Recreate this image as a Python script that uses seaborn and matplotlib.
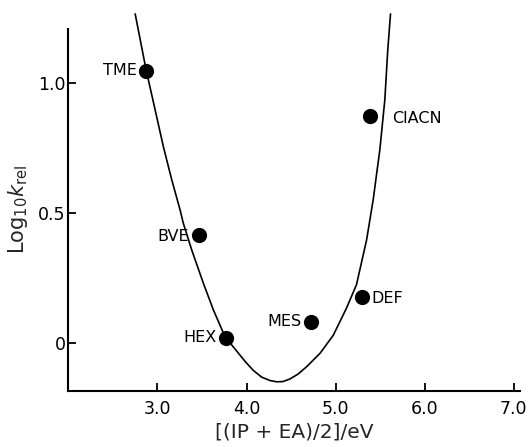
import matplotlib
matplotlib.use("Agg")
import matplotlib.pyplot as plt
import seaborn as sns
import pandas as pd

# Data
names = ["TME", "BVE", "HEX", "MES", "DEF", "ClACN"]
x_vals = [2.873, 3.467, 3.770, 4.723, 5.298, 5.388]
y_vals = [1.046, 0.416, 0.021, 0.083, 0.179, 0.873]

curve_x = [2.750, 2.873, 2.974, 3.067, 3.161, 3.254, 3.291, 3.386, 3.516, 3.628,
           3.759, 3.890, 3.990, 4.076, 4.170, 4.263, 4.340, 4.409, 4.488, 4.580,
           4.675, 4.827, 4.973, 5.123, 5.235, 5.348, 5.422, 5.497, 5.553, 5.586, 5.617]
curve_y = [1.264, 1.049, 0.896, 0.754, 0.627, 0.512, 0.460, 0.357, 0.230, 0.128,
           0.025, -0.030, -0.072, -0.104, -0.130, -0.143, -0.148, -0.147, -0.137, -0.118,
           -0.090, -0.038, 0.030, 0.135, 0.225, 0.396, 0.550, 0.742, 0.934, 1.125, 1.264]

xticks = [3.0, 4.0, 5.0, 6.0, 7.0]
xtick_labels = ["3.0", "4.0", "5.0", "6.0", "7.0"]
yticks = [0, 0.5, 1.0]
ytick_labels = ["0", "0.5", "1.0"]

# label offsets (points) and alignment
offsets = {"TME": (-7, 0, "right"), "BVE": (-7, -1, "right"), "HEX": (-7, 0, "right"),
           "MES": (-7, 0, "right"), "DEF": (7, -1, "left"), "ClACN": (16, -2, "left")}

sns.set_style("ticks")
plt.rcParams['font.family'] = ['DejaVu Sans']
plt.rcParams['mathtext.fontset'] = 'dejavusans'

fig = plt.figure(figsize=(5.30, 4.47), dpi=100)
ax = fig.add_axes([0.129, 0.126, 0.852, 0.8085])

curve_df = pd.DataFrame({"x": curve_x, "y": curve_y})
pts_df = pd.DataFrame({"x": x_vals, "y": y_vals, "name": names})

sns.lineplot(data=curve_df, x="x", y="y", sort=False, color="black", linewidth=1.2,
             ax=ax, clip_on=False)
sns.scatterplot(data=pts_df, x="x", y="y", color="black", s=120, edgecolor="black",
                linewidth=0, ax=ax, zorder=5)

for n, xv, yv in zip(names, x_vals, y_vals):
    dx, dy, ha = offsets[n]
    ax.annotate(n, (xv, yv), xytext=(dx, dy), textcoords="offset points",
                ha=ha, va="center", fontsize=11.5, color="black")

ax.set_xlim(2.0, 7.07)
ax.set_ylim(-0.182, 1.205)
ax.set_xticks(xticks)
ax.set_xticklabels(xtick_labels)
ax.set_yticks(yticks)
ax.set_yticklabels(ytick_labels)
ax.tick_params(direction="in", length=6, width=1.3, labelsize=12.5, colors="black")
ax.tick_params(axis="x", pad=7)
ax.tick_params(axis="y", pad=2)
for side in ["top", "right"]:
    ax.spines[side].set_visible(False)
for side in ["left", "bottom"]:
    ax.spines[side].set_linewidth(1.5)
    ax.spines[side].set_color("black")

ax.set_xlabel("[(IP + EA)/2]/eV", fontsize=14.5, labelpad=3)
ax.set_ylabel(r"Log$_{10}$$k_{\rm rel}$", fontsize=15, labelpad=6)

fig.savefig("out.png", dpi=100)
